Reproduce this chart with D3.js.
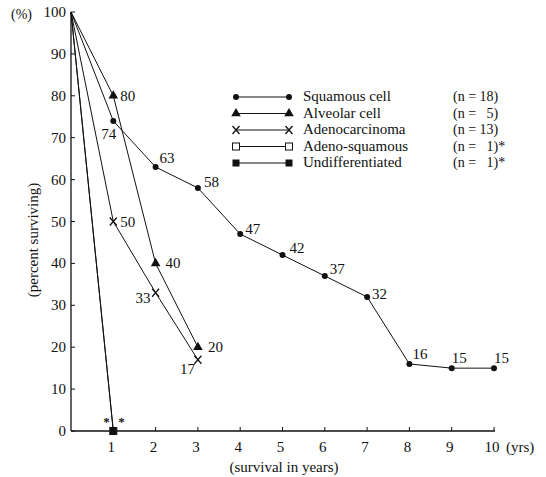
<!DOCTYPE html>
<html>
<head>
<meta charset="utf-8">
<script src="https://cdn.jsdelivr.net/npm/d3@7"></script>
<style>
  body { margin: 0; background: #fff; }
  text { font-family: "Liberation Serif", "DejaVu Serif", serif; fill: #111; }
</style>
</head>
<body>
<div id="chart"></div>
<script>
// survival data (percent surviving by year)
const squamousYears = [0, 1, 2, 3, 4, 5, 6, 7, 8, 9, 10];
const squamousValues = [100, 74, 63, 58, 47, 42, 37, 32, 16, 15, 15];
const alveolarYears = [0, 1, 2, 3];
const alveolarValues = [100, 80, 40, 20];
const adenoYears = [0, 1, 2, 3];
const adenoValues = [100, 50, 33, 17];
const adenoSqYears = [0, 1];
const adenoSqValues = [100, 0];
const undiffYears = [0, 1];
const undiffValues = [100, 0];

const legendNames = ["Squamous cell", "Alveolar cell", "Adenocarcinoma", "Adeno-squamous", "Undifferentiated"];
const legendCounts = ["(n = 18)", "(n =   5)", "(n = 13)", "(n =   1)*", "(n =   1)*"];
const xTicks = [1, 2, 3, 4, 5, 6, 7, 8, 9, 10];
const yTicks = [0, 10, 20, 30, 40, 50, 60, 70, 80, 90, 100];

const width = 546, height = 477;
const svg = d3.select("#chart").append("svg")
  .attr("width", width).attr("height", height);

const x = d3.scaleLinear().domain([0, 10]).range([71, 494]);
const y = d3.scaleLinear().domain([0, 100]).range([431, 12]);

// axes
svg.append("line").attr("x1", x(0)).attr("x2", x(10) + 1)
  .attr("y1", y(0)).attr("y2", y(0)).attr("stroke", "#111").attr("stroke-width", 1.6);
svg.append("line").attr("x1", x(0)).attr("x2", x(0))
  .attr("y1", y(0)).attr("y2", y(100)).attr("stroke", "#111").attr("stroke-width", 1.3);

svg.selectAll(".xtick").data(xTicks).join("line")
  .attr("x1", d => x(d)).attr("x2", d => x(d))
  .attr("y1", y(0)).attr("y2", y(0) - 4)
  .attr("stroke", "#111").attr("stroke-width", 1);
svg.selectAll(".xlab").data(xTicks).join("text")
  .attr("x", d => x(d) - 2).attr("y", y(0) + 21)
  .attr("text-anchor", "middle").attr("font-size", 15)
  .text(d => d);
svg.append("text").attr("x", x(10) + 12).attr("y", y(0) + 21)
  .attr("font-size", 15).text("(yrs)");

svg.selectAll(".ytick").data(yTicks).join("line")
  .attr("x1", x(0)).attr("x2", x(0) + 4)
  .attr("y1", d => y(d)).attr("y2", d => y(d))
  .attr("stroke", "#111").attr("stroke-width", 1);
svg.selectAll(".ylab").data(yTicks).join("text")
  .attr("x", x(0) - 5).attr("y", d => y(d) + 5)
  .attr("text-anchor", "end").attr("font-size", 15)
  .text(d => d);
svg.append("text").attr("x", 11).attr("y", y(100) + 7)
  .attr("font-size", 14).text("(%)");

svg.append("text").attr("x", 284).attr("y", 472)
  .attr("text-anchor", "middle").attr("font-size", 15)
  .text("(survival in years)");
svg.append("text").attr("transform", `translate(38,240) rotate(-90)`)
  .attr("text-anchor", "middle").attr("font-size", 15)
  .text("(percent surviving)");

// markers
function marker(g, type, cx, cy) {
  if (type === "circle") {
    g.append("circle").attr("cx", cx).attr("cy", cy).attr("r", 3).attr("fill", "#111");
  } else if (type === "triangle") {
    g.append("path").attr("d", d3.symbol(d3.symbolTriangle, 40)()).attr("transform", `translate(${cx},${cy})`).attr("fill", "#111");
  } else if (type === "cross") {
    g.append("path").attr("d", `M${cx - 3.5},${cy - 4}L${cx + 3.5},${cy + 4}M${cx + 3.5},${cy - 4}L${cx - 3.5},${cy + 4}`)
      .attr("stroke", "#111").attr("stroke-width", 1.3).attr("fill", "none");
  } else if (type === "open") {
    g.append("rect").attr("x", cx - 3.5).attr("y", cy - 3.5).attr("width", 7).attr("height", 7)
      .attr("fill", "#fff").attr("stroke", "#111").attr("stroke-width", 1);
  } else if (type === "square") {
    g.append("rect").attr("x", cx - 3.5).attr("y", cy - 3.5).attr("width", 7).attr("height", 7).attr("fill", "#111");
  }
}

const series = [
  { xs: squamousYears, ys: squamousValues, type: "circle" },
  { xs: alveolarYears, ys: alveolarValues, type: "triangle" },
  { xs: adenoYears, ys: adenoValues, type: "cross" },
  { xs: adenoSqYears, ys: adenoSqValues, type: "open" },
  { xs: undiffYears, ys: undiffValues, type: "square" }
];

const line = d3.line().x(d => x(d[0])).y(d => y(d[1]));
const plot = svg.append("g");
series.forEach(s => {
  const pts = s.xs.map((v, i) => [v, s.ys[i]]);
  plot.append("path").attr("d", line(pts))
    .attr("fill", "none").attr("stroke", "#111").attr("stroke-width", 1);
  pts.slice(1).forEach(p => marker(plot, s.type, x(p[0]), y(p[1])));
});

// value labels: [dx, dy, anchor] for each point after the first
const labelPlacement = [
  [[3, 18, "end"], [4, -4, "start"], [6, -1, "start"], [5, 0, "start"], [7, -2, "start"], [5, -2, "start"], [5, 2, "start"], [3, -5, "start"], [0, -5, "start"], [0, -5, "start"]],
  [[7, 5, "start"], [10, 5, "start"], [10, 5, "start"]],
  [[7, 5, "start"], [-5, 10, "end"], [-3, 14, "end"]]
];
series.slice(0, 3).forEach((s, si) => {
  s.ys.slice(1).forEach((v, i) => {
    const [dx, dy, anchor] = labelPlacement[si][i];
    svg.append("text")
      .attr("x", x(s.xs[i + 1]) + dx).attr("y", y(v) + dy)
      .attr("text-anchor", anchor).attr("font-size", 15)
      .text(v);
  });
});

// asterisks near the single-case groups
[-10, 5].forEach(dx => {
  svg.append("text").attr("x", x(1) + dx).attr("y", y(0) - 5)
    .attr("font-size", 13).attr("font-weight", "bold")
    .style("fill", "#111").text("*");
});

// legend
const legend = svg.append("g");
legendNames.forEach((name, i) => {
  const ly = 97 + i * 16.5;
  legend.append("line").attr("x1", 236).attr("x2", 289).attr("y1", ly).attr("y2", ly)
    .attr("stroke", "#111").attr("stroke-width", 1.2);
  marker(legend, series[i].type, 236, ly);
  marker(legend, series[i].type, 289, ly);
  legend.append("text").attr("x", 303).attr("y", ly + 4).attr("font-size", 15).text(name);
  legend.append("text").attr("x", 453).attr("y", ly + 4).attr("font-size", 14)
    .attr("xml:space", "preserve").style("white-space", "pre").text(legendCounts[i]);
});
</script>
</body>
</html>
